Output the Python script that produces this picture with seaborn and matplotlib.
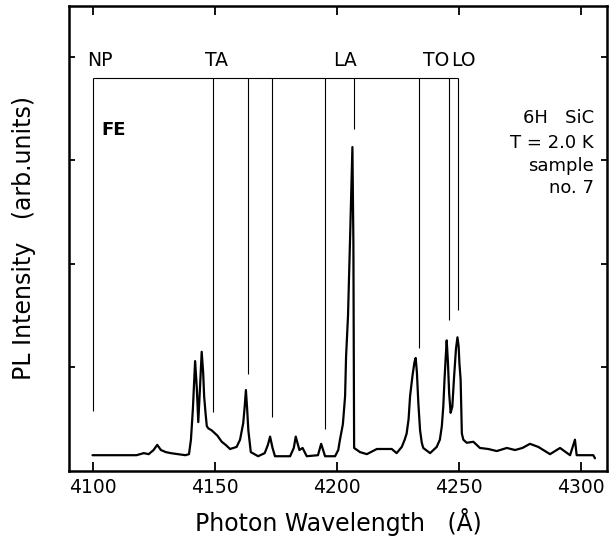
import matplotlib
matplotlib.use("Agg")
import matplotlib.pyplot as plt
import seaborn as sns
import pandas as pd

# ---- data ----
wavelength = [4100.0, 4110.0, 4118.0, 4121.0, 4123.0, 4125.0, 4126.5, 4128.0, 4130.0, 4132.0,
              4135.0, 4138.0, 4139.5, 4140.3, 4141.1, 4142.0, 4142.7, 4143.3, 4144.0, 4144.7,
              4145.3, 4145.7, 4146.3, 4146.8, 4147.4, 4148.8, 4151.1, 4152.9, 4154.5, 4156.3,
              4159.0, 4160.4, 4161.7, 4162.3, 4162.8, 4163.3, 4163.8, 4164.8, 4167.8, 4170.5,
              4171.8, 4172.7, 4173.7, 4174.7, 4178.0, 4180.9, 4182.4, 4183.2, 4184.7, 4186.0,
              4187.7, 4192.3, 4193.6, 4195.2, 4199.3, 4200.6, 4201.3, 4202.5, 4203.4, 4203.8,
              4204.6, 4205.5, 4206.4, 4206.8, 4207.1, 4209.5, 4212.3, 4216.4, 4222.5, 4224.5,
              4226.6, 4227.8, 4228.6, 4229.4, 4230.0, 4231.0, 4231.8, 4232.3, 4232.8, 4233.4,
              4234.1, 4234.8, 4235.4, 4238.2, 4240.9, 4242.2, 4243.0, 4243.6, 4244.1, 4244.6,
              4245.0, 4245.5, 4246.0, 4246.6, 4247.3, 4248.0, 4248.8, 4249.4, 4249.9, 4250.2,
              4250.7, 4251.2, 4251.8, 4253.2, 4255.9, 4258.6, 4262.0, 4265.5, 4269.6, 4273.0,
              4276.0, 4279.1, 4282.5, 4287.3, 4291.4, 4295.5, 4297.5, 4298.2, 4302.0, 4305.0,
              4305.7]
intensity = [0.15, 0.15, 0.15, 0.17, 0.16, 0.20, 0.25, 0.20, 0.18, 0.17,
             0.16, 0.15, 0.16, 0.30, 0.60, 1.06, 0.80, 0.47, 0.80, 1.15,
             0.95, 0.72, 0.55, 0.43, 0.41, 0.39, 0.34, 0.28, 0.25, 0.21,
             0.23, 0.30, 0.46, 0.62, 0.78, 0.60, 0.39, 0.18, 0.14, 0.17,
             0.25, 0.33, 0.22, 0.14, 0.14, 0.14, 0.22, 0.33, 0.20, 0.22,
             0.14, 0.15, 0.26, 0.14, 0.14, 0.20, 0.30, 0.45, 0.72, 1.10,
             1.50, 2.30, 3.13, 2.20, 0.22, 0.18, 0.16, 0.21, 0.21, 0.17,
             0.23, 0.30, 0.36, 0.50, 0.72, 0.92, 1.05, 1.09, 0.95, 0.65,
             0.39, 0.27, 0.22, 0.17, 0.23, 0.30, 0.43, 0.62, 0.88, 1.10,
             1.26, 1.05, 0.75, 0.56, 0.62, 0.90, 1.18, 1.29, 1.20, 1.04,
             0.88, 0.36, 0.30, 0.27, 0.28, 0.22, 0.21, 0.19, 0.22, 0.20,
             0.22, 0.26, 0.23, 0.16, 0.22, 0.15, 0.30, 0.15, 0.15, 0.15,
             0.12]

line_pos = [4100.0, 4149.4, 4163.5, 4173.4, 4195.1, 4206.9, 4233.6, 4246.0, 4249.8]
line_bottom = [0.58, 0.57, 0.94, 0.52, 0.40, 3.30, 1.19, 1.46, 1.55]
bracket_top = 3.80

phonon_labels = ["NP", "TA", "LA", "TO", "LO"]
phonon_label_x = [4102.9, 4150.8, 4203.4, 4240.5, 4251.7]

info_lines = ["6H   SiC", "T = 2.0 K", "sample", "no. 7"]
info_y = [3.41, 3.17, 2.95, 2.73]

x_ticks = [4100, 4150, 4200, 4250, 4300]
y_ticks = [1, 2, 3, 4]

# ---- figure ----
sns.set_style("ticks")
plt.rcParams["font.family"] = ["DejaVu Sans"]
plt.rcParams.update({"text.color": "black", "axes.labelcolor": "black",
                     "xtick.color": "black", "ytick.color": "black",
                     "axes.edgecolor": "black"})

fig = plt.figure(figsize=(6.10, 5.46), dpi=100)
ax = fig.add_axes([0.1136, 0.1379, 0.8810, 0.8511])

df = pd.DataFrame({"wavelength": wavelength, "intensity": intensity})
sns.lineplot(data=df, x="wavelength", y="intensity", sort=False, color="black",
             linewidth=1.6, ax=ax)

# marker lines and bracket
ax.vlines(line_pos, line_bottom, bracket_top, color="black", linewidth=0.8)
ax.hlines(bracket_top, line_pos[0], line_pos[-1], color="black", linewidth=0.8)

for lab, xx in zip(phonon_labels, phonon_label_x):
    ax.text(xx, 3.97, lab, ha="center", va="center", fontsize=13.5)

ax.text(4108.8, 3.295, "FE", ha="center", va="center", fontsize=13, fontweight="bold")

for s, yy in zip(info_lines, info_y):
    ax.text(4305.3, yy, s, ha="right", va="center", fontsize=13)

ax.set_xlim(4090.5, 4310.5)
ax.set_ylim(0, 4.494)
ax.set_xticks(x_ticks)
ax.set_yticks(y_ticks)
ax.set_yticklabels([])
ax.tick_params(axis="x", direction="in", length=6.5, width=1.3, top=True,
               labeltop=False, labelsize=13.5, pad=5)
ax.tick_params(axis="y", direction="in", length=4.3, width=1.3, right=True,
               labelleft=False)
for sp in ax.spines.values():
    sp.set_linewidth(1.8)
    sp.set_visible(True)

ax.set_xlabel("Photon Wavelength   (Å)", fontsize=17, labelpad=8)
ax.set_ylabel("PL Intensity   (arb.units)", fontsize=17, labelpad=24)

fig.savefig("out.png", dpi=100)
